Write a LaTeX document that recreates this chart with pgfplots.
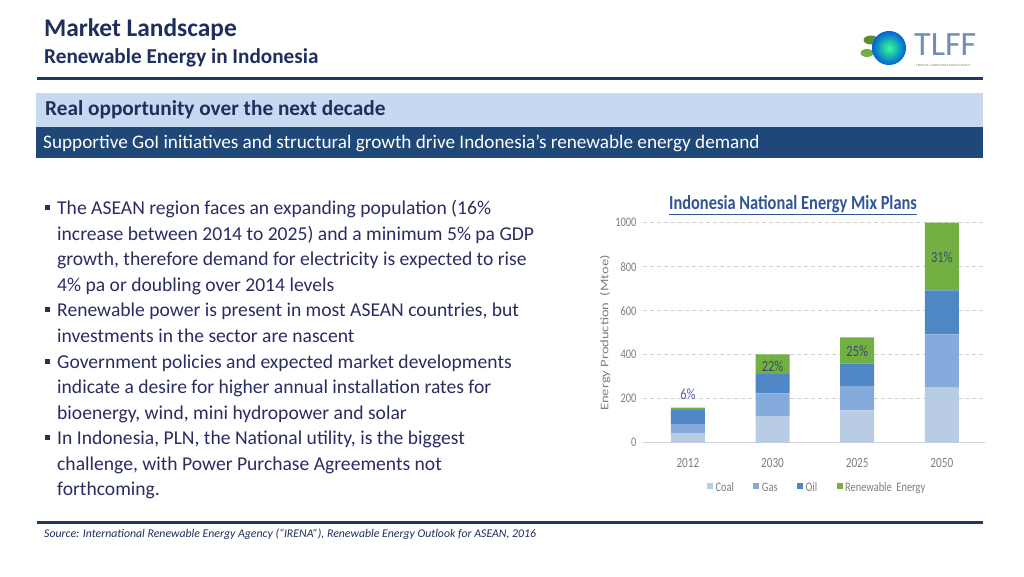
\documentclass[border=0pt]{standalone}
\usepackage{pgfplots}
\pgfplotsset{compat=1.18}
\usepackage{fontspec}
\setmainfont{Carlito}
\usepackage{graphicx}
\definecolor{navy}{HTML}{1F2E5C}
\definecolor{txt}{HTML}{2A2D62}
\definecolor{rulec}{HTML}{1F3A5F}
\definecolor{band1}{HTML}{C6D9F0}
\definecolor{band2}{HTML}{1F4778}
\definecolor{coal}{HTML}{B8CCE4}
\definecolor{gas}{HTML}{84ABDB}
\definecolor{oil}{HTML}{4F86C6}
\definecolor{ren}{HTML}{72B043}
\definecolor{axgray}{HTML}{7F7F7F}
\definecolor{ctitle}{HTML}{2F5597}
\definecolor{pct}{HTML}{3B4A66}
\definecolor{logoc}{HTML}{6F8DB5}
\newcommand\sq[1]{\scalebox{0.8}[1]{#1}}
\pgfplotstableread{
x coal gas oil ren
0 44 42 62 11
1 118 106 88 90
2 147 111 101 120
3 250 242 200 308
}\mixdata
\begin{document}
\begin{tikzpicture}
\begin{scope}[x=1pt,y=1pt]
\fill[white] (0,0) rectangle (1024,576);
% header
\node[anchor=base west, inner sep=0, text=navy, font=\fontsize{25.4}{30}\selectfont\bfseries] at (44,576-37) {Market Landscape};
\node[anchor=base west, inner sep=0, text=navy, font=\fontsize{21.2}{25}\selectfont\bfseries] at (44,576-64) {Renewable Energy in Indonesia};
\fill[rulec] (37,576-80.5) rectangle (983,576-77);
\fill[band1] (36,576-127) rectangle (983,576-93);
\fill[band2] (36,576-158) rectangle (983,576-127);
\node[anchor=base west, inner sep=0, text=navy, font=\fontsize{21.3}{25}\selectfont\bfseries] at (45,576-116) {Real opportunity over the next decade};
\node[anchor=base west, inner sep=0, text=white, font=\fontsize{19.2}{22}\selectfont] at (43,576-149) {Supportive GoI initiatives and structural growth drive Indonesia’s renewable energy demand};
% logo
\fill[ren!80!black] (871,576-40) ellipse (7.5 and 4.5);
\fill[ren] (867,576-53) ellipse (6.5 and 4);
\shade[inner color=green!55!cyan!80!white, outer color=blue!55!cyan!85!black] (889,576-48) circle (17);
\node[anchor=base west, inner sep=0, text=logoc, font=\fontsize{34}{34}\selectfont] at (914,576-56) {TLFF};
\node[anchor=base west, inner sep=0, text=gray, font=\fontsize{3.2}{3.2}\selectfont] at (916,576-67) {TROPICAL LANDSCAPES FINANCE FACILITY};
% bullets
\begin{scope}[every node/.style={anchor=base west, inner sep=0, text=txt, font=\fontsize{19.6}{23}\selectfont}]
\node at (57,576-215) {The ASEAN region faces an expanding population (16\%};
\node at (57,576-240.5) {increase between 2014 to 2025) and a minimum 5\% pa GDP};
\node at (57,576-266) {growth, therefore demand for electricity is expected to rise};
\node at (57,576-291.5) {4\% pa or doubling over 2014 levels};
\node at (57,576-317) {Renewable power is present in most ASEAN countries, but};
\node at (57,576-342.5) {investments in the sector are nascent};
\node at (57,576-368) {Government policies and expected market developments};
\node at (57,576-393.5) {indicate a desire for higher annual installation rates for};
\node at (57,576-419) {bioenergy, wind, mini hydropower and solar};
\node at (57,576-444.5) {In Indonesia, PLN, the National utility, is the biggest};
\node at (57,576-470) {challenge, with Power Purchase Agreements not};
\node at (57,576-495.5) {forthcoming.};
\end{scope}
\foreach \yy in {215,317,368,444.5} {\fill[txt] (45,576-\yy+4.5) rectangle +(5,5);}
% bottom
\fill[rulec] (37,576-523.5) rectangle (983,576-520.5);
\node[anchor=base west, inner sep=0, text=navy, font=\fontsize{11.8}{13}\selectfont\itshape] at (44,576-537) {Source: International Renewable Energy Agency (“IRENA”), Renewable Energy Outlook for ASEAN, 2016};
% chart title
\node[inner sep=0, text=ctitle, font=\fontsize{20}{22}\selectfont\bfseries] at (793,576-205) {\scalebox{0.82}[1]{\underline{Indonesia National Energy Mix Plans}}};
% y label
\node[rotate=90, inner sep=0, text=axgray, font=\fontsize{14.5}{16}\selectfont] at (605,576-333) {\scalebox{1}[0.8]{Energy Production\ \ (Mtoe)}};
\end{scope}
\begin{axis}[
  at={(643pt,133.3pt)}, anchor=south west,
  scale only axis, width=342pt, height=220pt,
  ybar stacked, bar width=34pt,
  xmin=-0.53, xmax=3.51, ymin=0, ymax=1000,
  xtick=data, xticklabels={\sq{2012},\sq{2030},\sq{2025},\sq{2050}},
  ytick={0,200,400,600,800,1000},
  yticklabel={\sq{\pgfmathprintnumber[assume math mode=true,1000 sep={}]{\tick}}},
  xticklabel style={font=\fontsize{14}{16}\selectfont, text=axgray, yshift=-12pt},
  yticklabel style={font=\fontsize{13}{15}\selectfont, text=axgray, xshift=-3pt},
  major tick length=0pt,
  axis x line*=bottom, axis y line*=left,
  x axis line style={draw=gray!35, line width=0.8pt, -},
  y axis line style={draw=none},
  ymajorgrids, grid style={dash pattern=on 4pt off 3pt, draw=gray!35, line width=0.8pt},
  clip=false,
  legend style={at={(axis description cs:0.51,-0.205)}, anchor=center, draw=none, fill=none,
    font=\fontsize{13}{14}\selectfont, text=axgray, legend columns=4,
    nodes={inner sep=2.5pt},
    /tikz/every even column/.append style={column sep=17pt}},
  legend image code/.code={\fill[#1] (0pt,-1.5pt) rectangle (6pt,4.5pt);},
]
\addplot[fill=coal, draw=none] table[x=x,y=coal] {\mixdata};
\addplot[fill=gas, draw=none] table[x=x,y=gas] {\mixdata};
\addplot[fill=oil, draw=none] table[x=x,y=oil] {\mixdata};
\addplot[fill=ren, draw=none] table[x=x,y=ren] {\mixdata};
\legend{\sq{Coal},\sq{Gas},\sq{Oil},\sq{Renewable\ \ Energy}}
\coordinate (p0) at (axis cs:0,221);
\coordinate (p1) at (axis cs:1,349);
\coordinate (p2) at (axis cs:2,417);
\coordinate (p3) at (axis cs:3,844);
\end{axis}
\node[text=pct!70!blue!80!white, font=\fontsize{15.5}{16}\selectfont] at (p0) {\sq{6\%}};
\node[text=pct, font=\fontsize{15.5}{16}\selectfont] at (p1) {\sq{22\%}};
\node[text=pct, font=\fontsize{15.5}{16}\selectfont] at (p2) {\sq{25\%}};
\node[text=pct, font=\fontsize{15.5}{16}\selectfont] at (p3) {\sq{31\%}};
\pgfresetboundingbox
\useasboundingbox (0,0) rectangle (1024pt,576pt);
\end{tikzpicture}
\end{document}
